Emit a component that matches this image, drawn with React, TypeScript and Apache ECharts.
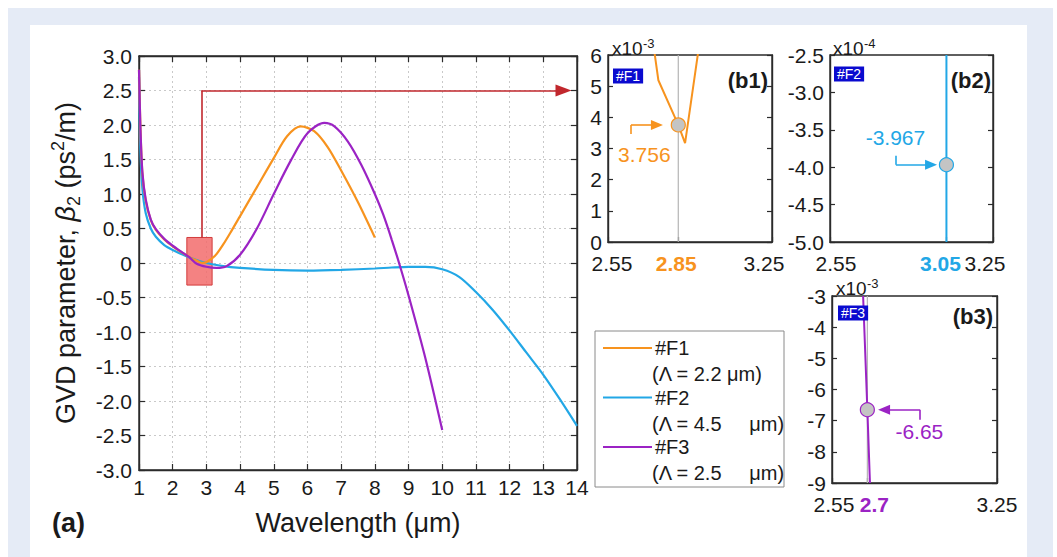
import React, { useEffect, useRef } from "react";
import * as echarts from "echarts";

const FONT = '"Liberation Sans", Arial, Helvetica, sans-serif';
const INK = "#1a1a1a";

// ---------- data: panel (a) ----------
const f1Wavelength = [1.0, 1.04, 1.1, 1.2, 1.35, 1.5, 1.75, 2.0, 2.25, 2.5, 2.75, 2.85, 2.9, 3.0, 3.25, 3.5, 3.75, 4.0, 4.5, 5.0, 5.4, 5.8, 6.2, 6.6, 7.0, 7.5, 8.0];
const f1Beta2 = [2.8, 2.0, 1.3, 0.9, 0.62, 0.48, 0.34, 0.24, 0.16, 0.085, 0.025, 0.0038, 0.0032, 0.012, 0.1, 0.27, 0.47, 0.68, 1.1, 1.52, 1.84, 1.98, 1.91, 1.68, 1.34, 0.88, 0.37];

const f2Wavelength = [1.0, 1.04, 1.1, 1.2, 1.35, 1.5, 1.75, 2.0, 2.5, 3.0, 3.5, 4.0, 5.0, 6.0, 7.0, 8.0, 8.5, 9.0, 9.5, 10.0, 10.5, 11.0, 11.5, 12.0, 12.5, 13.0, 13.5, 14.0];
const f2Beta2 = [2.7, 1.65, 1.08, 0.72, 0.5, 0.38, 0.26, 0.19, 0.08, -0.0004, -0.045, -0.07, -0.1, -0.11, -0.1, -0.08, -0.065, -0.055, -0.055, -0.09, -0.2, -0.42, -0.68, -0.98, -1.3, -1.62, -1.98, -2.36];

const f3Wavelength = [1.0, 1.04, 1.1, 1.2, 1.35, 1.5, 1.75, 2.0, 2.25, 2.5, 2.7, 3.0, 3.3, 3.6, 4.0, 4.5, 5.0, 5.5, 6.0, 6.5, 6.8, 7.2, 7.6, 8.0, 8.25, 8.5, 8.75, 9.0, 9.5, 10.0];
const f3Beta2 = [2.8, 2.0, 1.32, 0.92, 0.63, 0.49, 0.35, 0.25, 0.165, 0.08, -0.0067, -0.055, -0.072, -0.045, 0.12, 0.5, 1.0, 1.48, 1.88, 2.03, 1.98, 1.76, 1.42, 1.0, 0.7, 0.34, -0.05, -0.47, -1.38, -2.42];

// ---------- data: insets (b1)-(b3) ----------
const b1Wavelength = [2.748, 2.765, 2.85, 2.879, 2.935];
const b1Beta2 = [6.1, 5.19, 3.756, 3.17, 6.1]; // x10^-3
const b1Point = [2.85, 3.756];
const b1XLabels = [2.55, 2.85, 3.25];

const b2Wavelength = [3.05, 3.05];
const b2Beta2 = [-2.5, -5.0]; // x10^-4
const b2Point = [3.05, -3.967];
const b2XLabels = [2.55, 3.05, 3.25];

const b3Wavelength = [2.682, 2.7, 2.711];
const b3Beta2 = [-3.0, -6.65, -9.0]; // x10^-3
const b3Point = [2.7, -6.65];
const b3XLabels = [2.55, 2.7, 3.25];

const names = ["#F1", "#F2", "#F3"];
const periods = ["(\u039b = 2.2 \u03bcm)", "(\u039b = 4.5\u00a0\u00a0\u00a0\u00a0 \u03bcm)", "(\u039b = 2.5\u00a0\u00a0\u00a0\u00a0 \u03bcm)"];
const colors = ["#f7931e", "#22a7e6", "#9b23c4"];

const pairs = (xs: number[], ys: number[]) => xs.map((x, i) => [x, ys[i]]);

const axisLineStyle = { color: "#2b2b2b", width: 1.4 };
const tickStyle = { color: "#2b2b2b", width: 1.2 };
const tickLabel = { fontFamily: FONT, fontSize: 21, color: INK };

// shifts: horizontal nudge (px) of each of the three inset x labels
function insetX(gridIndex: number, values: number[], hlColor: string, shifts: number[], margin: number) {
  const pad = (s: number) => (s >= 0 ? [0, 0, 0, 2 * s] : [0, -2 * s, 0, 0]);
  const rich: any = {};
  values.forEach((_, i) => {
    rich["r" + i] = {
      fontFamily: FONT,
      fontSize: 21,
      color: i === 1 ? hlColor : INK,
      fontWeight: i === 1 ? "bold" : "normal",
      padding: pad(shifts[i]),
    };
  });
  return {
    type: "value",
    gridIndex,
    min: 2.55,
    max: 3.25,
    position: "bottom",
    axisLine: { show: true, onZero: false, lineStyle: axisLineStyle },
    axisTick: { show: true, inside: true, length: 5, customValues: values, lineStyle: tickStyle },
    axisLabel: {
      ...tickLabel,
      margin,
      customValues: values,
      formatter: (v: number) => {
        let idx = values.findIndex((u) => Math.abs(u - v) < 1e-9);
        if (idx < 0) idx = 0;
        return `{r${idx}|${v}}`;
      },
      rich,
    },
    splitLine: { show: false },
  };
}

function insetY(gridIndex: number, min: number, max: number, interval: number, position: string, labels: boolean, digits: number) {
  return {
    type: "value",
    gridIndex,
    min,
    max,
    interval,
    position,
    axisLine: { show: true, onZero: false, lineStyle: axisLineStyle },
    axisTick: { show: true, inside: true, length: 5, lineStyle: tickStyle },
    axisLabel: { show: labels, ...tickLabel, margin: 6, formatter: (v: number) => v.toFixed(digits) },
    splitLine: { show: false },
  };
}

function elbowArrow(p0: number[], p1: number[], p2: number[], color: string, size: number[]) {
  return [
    [{ coord: p0 }, { coord: p1 }],
    [{ coord: p1 }, { coord: p2, symbol: "triangle", symbolSize: size }],
  ].map((seg) => seg.map((pt) => ({ ...pt, lineStyle: { color, width: 1.6, type: "solid" } })));
}

function pointSeries(xi: number, yi: number, pt: number[], color: string, digits: number, offset: number[]) {
  return {
    type: "scatter",
    xAxisIndex: xi,
    yAxisIndex: yi,
    data: [pt],
    symbolSize: 14,
    z: 6,
    itemStyle: { color: "#c4c4c4", borderColor: color, borderWidth: 1.2, opacity: 1 },
    label: {
      show: true,
      position: "inside",
      offset,
      formatter: (p: any) => p.value[1].toFixed(digits),
      fontFamily: FONT,
      fontSize: 21,
      color,
    },
  };
}

const txt = (x: number, y: number, text: string, extra: any = {}) => ({
  type: "text",
  x,
  y,
  silent: true,
  z: 50,
  style: {
    text,
    fill: INK,
    fontFamily: FONT,
    fontSize: 20,
    textAlign: "left",
    align: "left",
    textVerticalAlign: "middle",
    verticalAlign: "middle",
    ...extra,
  },
});

const mult = (x: number, y: number, exp: string) => [
  txt(x, y, "x10", { fontSize: 19 }),
  txt(x + 31, y - 5, exp, { fontSize: 13 }),
];

const tag = (x: number, y: number, text: string) =>
  txt(x, y, text, { fill: "#ffffff", fontSize: 14, backgroundColor: "#0a0acf", padding: [1, 3, 0, 3] });

function buildOption() {
  const legendEls: any[] = [
    {
      type: "rect",
      z: 40,
      silent: true,
      shape: { x: 595, y: 331, width: 189, height: 156 },
      style: { fill: "#ffffff", stroke: "#8a8a8a", lineWidth: 1 },
    },
  ];
  names.forEach((n, i) => {
    const y = 348 + i * 49.5;
    legendEls.push({
      type: "line",
      z: 45,
      silent: true,
      shape: { x1: 603, y1: y, x2: 652, y2: y },
      style: { stroke: colors[i], lineWidth: 2 },
    });
    legendEls.push(txt(655, y, n, { fontSize: 20 }));
    legendEls.push(txt(652, y + 26, periods[i], { fontSize: 20 }));
  });

  const gridBase = { show: true, borderColor: "#2b2b2b", borderWidth: 1.4, backgroundColor: "transparent", outerBoundsMode: "none", containLabel: false };
  const mainLine = (idx: number, xs: number[], ys: number[], z: number) => ({
    name: names[idx],
    type: "line",
    xAxisIndex: 0,
    yAxisIndex: 0,
    data: pairs(xs, ys),
    showSymbol: false,
    smooth: 0.3,
    lineStyle: { color: colors[idx], width: 2.2 },
    itemStyle: { color: colors[idx] },
    z,
  });

  return {
    animation: false,
    backgroundColor: "transparent",
    grid: [
      { ...gridBase, left: 139, top: 56, width: 438, height: 414 },
      { ...gridBase, left: 608, top: 55, width: 164, height: 187 },
      { ...gridBase, left: 830, top: 55, width: 163, height: 187 },
      { ...gridBase, left: 832, top: 296, width: 165, height: 187 },
    ],
    xAxis: [
      {
        type: "value",
        gridIndex: 0,
        min: 1,
        max: 14,
        interval: 1,
        position: "bottom",
        axisLine: { show: true, onZero: false, lineStyle: axisLineStyle },
        axisTick: { show: true, inside: true, length: 6, lineStyle: tickStyle },
        axisLabel: { ...tickLabel, margin: 7 },
        splitLine: { show: true, lineStyle: { color: "#c9c9c9", width: 1, type: [2, 3] } },
        name: "Wavelength (\u03bcm)",
        nameLocation: "middle",
        nameGap: 39,
        nameTextStyle: { fontFamily: FONT, fontSize: 27, color: INK },
      },
      {
        type: "value",
        gridIndex: 0,
        min: 1,
        max: 14,
        interval: 1,
        position: "top",
        axisLine: { show: true, onZero: false, lineStyle: axisLineStyle },
        axisTick: { show: true, inside: true, length: 6, lineStyle: tickStyle },
        axisLabel: { show: false },
        splitLine: { show: false },
      },
      insetX(1, b1XLabels, colors[0], [4, -2, -8], 11),
      insetX(2, b2XLabels, colors[1], [6, -6, -8], 11),
      insetX(3, b3XLabels, colors[2], [2, 7, 0], 11),
    ],
    yAxis: [
      {
        type: "value",
        gridIndex: 0,
        min: -3,
        max: 3,
        interval: 0.5,
        position: "left",
        axisLine: { show: true, onZero: false, lineStyle: axisLineStyle },
        axisTick: { show: true, inside: true, length: 6, lineStyle: tickStyle },
        axisLabel: { ...tickLabel, margin: 7, formatter: (v: number) => (v === 0 ? "0" : v.toFixed(1)) },
        splitLine: { show: true, lineStyle: { color: "#c9c9c9", width: 1, type: [2, 3] } },
        name: "{n|GVD parameter, }{i|\u03b2}{s|2}{n| (ps}{p|2}{n|/m)}",
        nameLocation: "middle",
        nameGap: 56,
        nameTextStyle: {
          fontFamily: FONT,
          fontSize: 27,
          color: INK,
          rich: {
            n: { fontFamily: FONT, fontSize: 27, color: INK, lineHeight: 34 },
            i: { fontFamily: FONT, fontSize: 27, fontStyle: "italic", color: INK, lineHeight: 34 },
            s: { fontFamily: FONT, fontSize: 18, color: INK, lineHeight: 16, verticalAlign: "bottom" },
            p: { fontFamily: FONT, fontSize: 18, color: INK, lineHeight: 20, verticalAlign: "top" },
          },
        },
      },
      {
        type: "value",
        gridIndex: 0,
        min: -3,
        max: 3,
        interval: 0.5,
        position: "right",
        axisLine: { show: true, onZero: false, lineStyle: axisLineStyle },
        axisTick: { show: true, inside: true, length: 6, lineStyle: tickStyle },
        axisLabel: { show: false },
        splitLine: { show: false },
      },
      insetY(1, 0, 6, 1, "left", true, 0),
      insetY(1, 0, 6, 1, "right", false, 0),
      insetY(2, -5, -2.5, 0.5, "left", true, 1),
      insetY(2, -5, -2.5, 0.5, "right", false, 1),
      insetY(3, -9, -3, 1, "left", true, 0),
      insetY(3, -9, -3, 1, "right", false, 0),
    ],
    series: [
      mainLine(1, f2Wavelength, f2Beta2, 2),
      mainLine(0, f1Wavelength, f1Beta2, 3),
      mainLine(2, f3Wavelength, f3Beta2, 4),
      {
        type: "line",
        xAxisIndex: 0,
        yAxisIndex: 0,
        data: [],
        z: 8,
        silent: true,
        markArea: {
          silent: true,
          itemStyle: { color: "rgba(242,108,108,0.85)", borderColor: "#d23b3b", borderWidth: 1 },
          data: [[{ coord: [2.42, 0.37] }, { coord: [3.17, -0.32] }]],
        },
        markLine: {
          silent: true,
          symbol: ["none", "none"],
          label: { show: false },
          lineStyle: { color: "#c1272d", width: 1.6, type: "solid" },
          data: elbowArrow([2.85, 0.37], [2.85, 2.5], [13.6, 2.5], "#c1272d", [12, 16]),
        },
      },
      // inset b1
      {
        type: "line",
        xAxisIndex: 2,
        yAxisIndex: 2,
        data: [[b1Point[0], 0], [b1Point[0], 6]],
        showSymbol: false,
        lineStyle: { color: "#b5b5b5", width: 1.2 },
        z: 1,
      },
      {
        type: "line",
        xAxisIndex: 2,
        yAxisIndex: 2,
        data: pairs(b1Wavelength, b1Beta2),
        showSymbol: false,
        lineStyle: { color: colors[0], width: 2 },
        z: 3,
        markLine: {
          silent: true,
          symbol: ["none", "none"],
          label: { show: false },
          data: elbowArrow([2.648, 3.467], [2.648, 3.756], [2.759, 3.756], colors[0], [10, 12]),
        },
      },
      pointSeries(2, 2, b1Point, colors[0], 3, [-34, 30]),
      // inset b2
      {
        type: "line",
        xAxisIndex: 3,
        yAxisIndex: 4,
        data: pairs(b2Wavelength, b2Beta2),
        showSymbol: false,
        lineStyle: { color: colors[1], width: 2 },
        z: 3,
        markLine: {
          silent: true,
          symbol: ["none", "none"],
          label: { show: false },
          data: elbowArrow([2.833, -3.847], [2.833, -3.967], [2.984, -3.967], colors[1], [10, 12]),
        },
      },
      pointSeries(3, 4, b2Point, colors[1], 3, [-51, -27]),
      // inset b3
      {
        type: "line",
        xAxisIndex: 4,
        yAxisIndex: 6,
        data: [[b3Point[0], -9], [b3Point[0], -3]],
        showSymbol: false,
        lineStyle: { color: "#b5b5b5", width: 1.2 },
        z: 1,
      },
      {
        type: "line",
        xAxisIndex: 4,
        yAxisIndex: 6,
        data: pairs(b3Wavelength, b3Beta2),
        showSymbol: false,
        lineStyle: { color: colors[2], width: 2 },
        z: 3,
        markLine: {
          silent: true,
          symbol: ["none", "none"],
          label: { show: false },
          data: elbowArrow([2.923, -6.97], [2.923, -6.65], [2.771, -6.65], colors[2], [10, 12]),
        },
      },
      pointSeries(4, 6, b3Point, colors[2], 2, [52, 22]),
    ],
    graphic: [
      txt(52, 523, "(a)", { fontSize: 27, fontWeight: "bold" }),
      txt(768, 80, "(b1)", { fontSize: 22, fontWeight: "bold", textAlign: "right", align: "right" }),
      txt(991, 80, "(b2)", { fontSize: 22, fontWeight: "bold", textAlign: "right", align: "right" }),
      txt(993, 316, "(b3)", { fontSize: 22, fontWeight: "bold", textAlign: "right", align: "right" }),
      tag(613, 76, names[0]),
      tag(834, 74, names[1]),
      tag(838, 313, names[2]),
      ...mult(612, 48, "-3"),
      ...mult(833, 48, "-4"),
      ...mult(836, 288, "-3"),
      ...legendEls,
    ],
  };
}

export default function App() {
  const ref = useRef<HTMLDivElement>(null);
  useEffect(() => {
    if (!ref.current) return;
    const chart = echarts.init(ref.current, null, { renderer: "svg" });
    chart.setOption(buildOption() as any);
    return () => chart.dispose();
  }, []);
  return (
    <div style={{ position: "fixed", left: 0, top: 0, width: 1057, height: 557, background: "#ffffff", overflow: "hidden" }}>
      <div style={{ position: "absolute", left: 8, top: 8, width: 1045, height: 549, background: "#e5ebf6" }} />
      <div style={{ position: "absolute", left: 30, top: 25, width: 997, height: 532, background: "#ffffff" }} />
      <div ref={ref} style={{ position: "absolute", left: 0, top: 0, width: 1057, height: 557 }} />
    </div>
  );
}
